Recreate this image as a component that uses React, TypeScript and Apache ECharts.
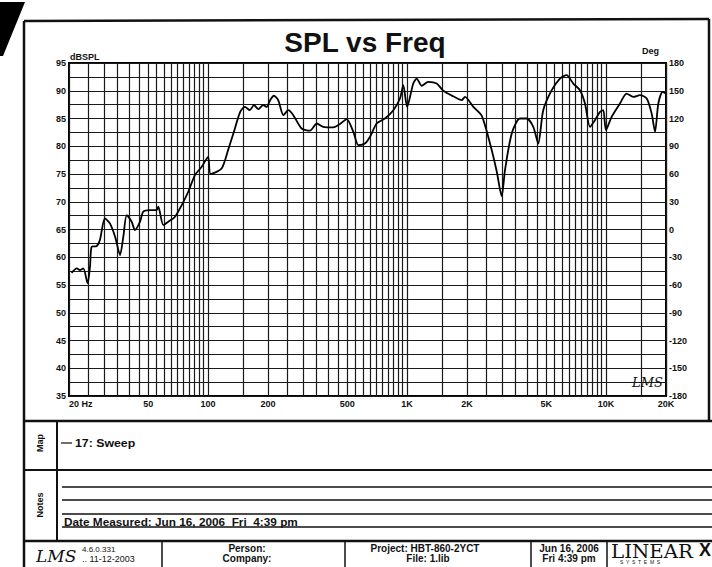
import React, { useEffect, useRef } from "react";
import * as echarts from "echarts";

// ---- data ----
const FREQ_HZ = [
  20.6, 21.9, 22.7, 23.6, 24.8, 25.5, 26.0, 27.5, 28.6, 30.3, 32.1, 34.1, 36.1, 37.5, 39.0,
  41.3, 42.9, 45.5, 47.2, 51.1, 55.2, 56.2, 59.6, 63.1, 68.2, 73.7, 79.5, 85.9, 92.9, 100,
  103, 117, 126, 134, 145, 153, 162, 170, 179, 189, 197, 205, 214, 225, 239, 253, 268, 295,
  325, 352, 379, 426, 460, 497, 537, 569, 614, 651, 703, 774, 853, 921, 957, 1000, 1074,
  1118, 1184, 1278, 1409, 1520, 1706, 1880, 1954, 2152, 2370, 2610, 2820, 2988, 3104, 3356,
  3692, 3990, 4306, 4560, 4832, 5330, 5864, 6334, 6840, 7394, 7832, 8300, 8790, 9318, 9680,
  9980, 10660, 11740, 12680, 13700, 14800, 16000, 16940, 17620, 18300, 19240, 20000,
];
const SPL_DB = [
  57.2, 58.0, 57.7, 58.0, 55.3, 58.3, 61.9, 62.0, 63.1, 67.0, 66.1, 63.7, 60.4, 63.7, 67.6,
  66.4, 64.9, 66.4, 68.2, 68.5, 68.5, 69.1, 65.8, 66.4, 67.3, 69.4, 71.8, 74.8, 76.3, 78.1,
  75.0, 76.0, 79.3, 82.3, 86.2, 87.1, 86.5, 87.4, 86.7, 87.4, 87.1, 88.3, 89.1, 88.3, 85.6,
  86.5, 85.6, 83.2, 82.8, 84.1, 83.5, 83.4, 84.0, 84.9, 82.6, 80.2, 80.5, 81.7, 84.1, 85.0,
  86.5, 88.6, 91.0, 87.1, 91.3, 92.2, 90.9, 91.6, 91.3, 90.0, 89.0, 88.3, 88.9, 87.1, 85.5,
  80.5, 75.5, 71.0, 75.7, 82.3, 85.0, 85.0, 83.5, 80.5, 86.5, 90.1, 92.2, 92.8, 91.3, 90.1,
  87.7, 83.5, 84.7, 86.2, 86.5, 82.9, 85.3, 87.7, 89.5, 88.9, 89.2, 88.6, 85.9, 82.6, 87.7,
  89.8, 89.5,
];
const X_LABEL_FREQS = [20, 50, 100, 200, 500, 1000, 2000, 5000, 10000, 20000];
const X_LABELS = ["20 Hz", "50", "100", "200", "500", "1K", "2K", "5K", "10K", "20K"];
const GRID_MULTIPLES = [1, 1.5, 2, 2.5, 3, 3.5, 4, 4.5, 5, 5.5, 6, 6.5, 7, 7.5, 8, 8.5, 9, 9.5];
const GRID_DECADES = [10, 100, 1000, 10000];
const F_MIN = 20;
const F_MAX = 20000;
const DB_MIN = 35;
const DB_MAX = 95;
const DEG_MIN = -180;
const DEG_MAX = 180;

const FONT = '"Liberation Sans", Arial, sans-serif';
const INK = "#111";

export default function App() {
  const ref = useRef<HTMLDivElement>(null);

  useEffect(() => {
    if (!ref.current) return;
    const chart = echarts.init(ref.current, undefined, { renderer: "svg" });

    const lg = (f: number) => Math.log10(f);
    const gridVals: number[] = [];
    GRID_DECADES.forEach((d) =>
      GRID_MULTIPLES.forEach((m) => {
        const f = m * d;
        if (f >= F_MIN - 1e-9 && f <= F_MAX + 1e-9) gridVals.push(lg(f));
      })
    );
    gridVals.push(lg(F_MAX));
    const labelVals = X_LABEL_FREQS.map(lg);
    const data = FREQ_HZ.map((f, i) => [lg(f), SPL_DB[i]]);

    const ln = (x1: number, y1: number, x2: number, y2: number, w = 2) => ({
      type: "line",
      shape: { x1, y1, x2, y2 },
      style: { stroke: INK, lineWidth: w },
      silent: true,
    });
    const tx = (
      text: string,
      x: number,
      y: number,
      font: string,
      align = "left",
      extra: any = {}
    ) => ({
      type: "text",
      x,
      y,
      silent: true,
      ...extra,
      style: { text, font, fill: INK, textAlign: align, textVerticalAlign: "middle" },
    });

    const graphics: any[] = [
      { type: "polygon", silent: true, shape: { points: [[0, 2], [25, 2], [3, 56], [0, 56]] }, style: { fill: "#000" } },
      ln(24, 21, 24, 567, 2.5),
      ln(24, 21, 709, 19, 2.5),
      ln(709, 19, 709, 420, 2.5),
      ln(24, 421, 712, 421, 2.5),
      ln(24, 470, 712, 470, 2),
      ln(57, 421, 57, 541, 2),
      ln(62, 487, 712, 487, 1.5),
      ln(62, 500, 712, 500, 1.5),
      ln(62, 514, 712, 514, 1.5),
      ln(62, 527, 712, 527, 1.5),
      ln(24, 541, 712, 541, 2.5),
      ln(162, 541, 162, 567, 1.5),
      ln(345, 541, 345, 567, 1.5),
      ln(531, 541, 531, 567, 1.5),
      ln(607, 541, 607, 567, 1.5),
      ln(61, 443, 72, 443, 1.2),
      tx("SPL vs Freq", 365, 42, `bold 28px ${FONT}`, "center"),
      tx("dBSPL", 70, 57, `bold 9px ${FONT}`),
      tx("Deg", 642, 51, `bold 9px ${FONT}`),
      tx("LMS", 632, 382, 'italic 13px "DejaVu Serif", serif'),
      tx("Map", 40, 443, `bold 9px ${FONT}`, "center", { rotation: Math.PI / 2 }),
      tx("Notes", 40, 505, `bold 9px ${FONT}`, "center", { rotation: Math.PI / 2 }),
      tx("17: Sweep", 75, 443, `bold 11px ${FONT}`, "left", { scaleX: 1.12 }),
      tx("Date Measured: Jun 16, 2006  Fri  4:39 pm", 64, 522, `bold 10px ${FONT}`, "left", { scaleX: 1.18 }),
      tx("LMS", 36, 556, 'italic 17px "DejaVu Serif", serif'),
      tx("4.6.0.331", 82, 549, `8px ${FONT}`),
      tx(".. 11-12-2003", 82, 559, `9px ${FONT}`),
      tx("Person:", 247, 548, `bold 10px ${FONT}`, "center"),
      tx("Company:", 247, 558, `bold 10px ${FONT}`, "center"),
      tx("Project: HBT-860-2YCT", 425, 548, `bold 10px ${FONT}`, "center"),
      tx("File: 1.lib", 428, 558, `bold 10px ${FONT}`, "center"),
      tx("Jun 16, 2006", 569, 548, `bold 10px ${FONT}`, "center"),
      tx("Fri 4:39 pm", 569, 558, `bold 10px ${FONT}`, "center"),
      tx("LINEAR", 611, 551, '18px "DejaVu Serif", serif', "left", { scaleX: 1.1 }),
      tx("X", 699, 550, `bold 18px ${FONT}`),
      tx("S  Y  S  T  E  M  S", 620, 562, `5px ${FONT}`),
    ];

    chart.setOption({
      animation: false,
      backgroundColor: "#fff",
      grid: {
        left: 69,
        top: 63,
        width: 597,
        height: 333,
        show: true,
        borderColor: "#000",
        borderWidth: 2,
        backgroundColor: "#fff",
      },
      xAxis: {
        type: "value",
        min: lg(F_MIN),
        max: lg(F_MAX),
        axisLine: { show: false },
        axisTick: { show: false, customValues: gridVals },
        splitLine: { show: true, lineStyle: { color: "#1a1a1a", width: 1.2 } },
        axisLabel: {
          customValues: labelVals,
          showMinLabel: true,
          showMaxLabel: true,
          alignMinLabel: "left",
          margin: 3,
          color: INK,
          fontSize: 9,
          fontWeight: "bold",
          fontFamily: FONT,
          formatter: (v: number) => {
            const i = labelVals.findIndex((lv) => Math.abs(lv - v) < 1e-6);
            return i >= 0 ? X_LABELS[i] : "";
          },
        },
      },
      yAxis: [
        {
          type: "value",
          min: DB_MIN,
          max: DB_MAX,
          interval: 2.5,
          axisLine: { show: false },
          axisTick: { show: false },
          splitLine: { show: true, lineStyle: { color: "#1a1a1a", width: 1.2 } },
          axisLabel: {
            margin: 3,
            color: INK,
            fontSize: 9,
            fontWeight: "bold",
            fontFamily: FONT,
            formatter: (v: number) => (v % 5 === 0 ? String(v) : ""),
          },
        },
        {
          type: "value",
          position: "right",
          min: DEG_MIN,
          max: DEG_MAX,
          interval: 30,
          axisLine: { show: false },
          axisTick: { show: false },
          splitLine: { show: false },
          axisLabel: {
            margin: 3,
            color: INK,
            fontSize: 9,
            fontWeight: "bold",
            fontFamily: FONT,
          },
        },
      ],
      series: [
        {
          type: "line",
          name: "17: Sweep",
          data,
          showSymbol: false,
          smooth: 0.25,
          lineStyle: { color: "#000", width: 1.8 },
          z: 5,
        },
      ],
      graphic: { elements: graphics },
    });

    return () => chart.dispose();
  }, []);

  return (
    <div
      ref={ref}
      style={{ position: "fixed", left: 0, top: 0, width: 712, height: 567, background: "#fff" }}
    />
  );
}
